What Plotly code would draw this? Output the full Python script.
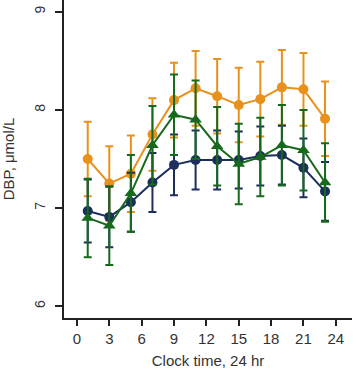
import plotly.graph_objects as go

hours = [1, 3, 5, 7, 9, 11, 13, 15, 17, 19, 21, 23]

orange_mean = [7.50, 7.25, 7.35, 7.75, 8.10, 8.22, 8.14, 8.05, 8.11, 8.23, 8.21, 7.91]
orange_err = [0.38, 0.38, 0.39, 0.37, 0.38, 0.38, 0.38, 0.38, 0.38, 0.38, 0.37, 0.38]

navy_mean = [6.97, 6.91, 7.06, 7.26, 7.44, 7.49, 7.49, 7.49, 7.53, 7.54, 7.41, 7.17]
navy_err = [0.32, 0.31, 0.30, 0.30, 0.31, 0.30, 0.30, 0.29, 0.30, 0.30, 0.30, 0.30]

green_mean = [6.90, 6.82, 7.15, 7.64, 7.95, 7.90, 7.63, 7.45, 7.52, 7.64, 7.59, 7.26]
green_err = [0.40, 0.40, 0.39, 0.40, 0.41, 0.40, 0.40, 0.41, 0.40, 0.41, 0.41, 0.40]

x_ticks = [0, 3, 6, 9, 12, 15, 18, 21, 24]
y_ticks = [6, 7, 8, 9]

ORANGE = "#E8911C"
NAVY = "#1C2F5C"
GREEN = "#176A1C"

fig = go.Figure()

def add_series(y, err, color, symbol, size):
    fig.add_trace(go.Scatter(
        x=hours, y=y, mode="lines+markers",
        line=dict(color=color, width=2),
        marker=dict(color=color, symbol=symbol, size=size),
        error_y=dict(type="data", array=err, visible=True, color=color,
                     thickness=2, width=4),
        showlegend=False, hoverinfo="skip",
    ))

add_series(orange_mean, orange_err, ORANGE, "circle", 10)
add_series(navy_mean, navy_err, NAVY, "circle", 10)
add_series(green_mean, green_err, GREEN, "triangle-up", 11)

font = dict(family="Liberation Sans, Arial, sans-serif", size=14, color="#333333")

fig.update_layout(
    width=361, height=381,
    margin=dict(l=64, r=9, t=0, b=63),
    paper_bgcolor="white", plot_bgcolor="white",
    font=font,
    xaxis=dict(
        range=[-1.2, 25.5], tickvals=x_ticks, ticktext=[str(v) for v in x_ticks],
        showgrid=False, zeroline=False, showline=True, linecolor="#222222", linewidth=1.5,
        ticks="outside", ticklen=6, tickwidth=1.5, tickcolor="#222222",
        title=dict(text="Clock time, 24 hr", font=dict(size=15), standoff=10),
        tickfont=dict(size=15), automargin=False,
    ),
    yaxis=dict(
        range=[5.88, 9.12], tickvals=y_ticks, ticktext=[str(v) for v in y_ticks],
        showgrid=False, zeroline=False, showline=True, linecolor="#222222", linewidth=1.5,
        ticks="outside", ticklen=7, tickwidth=1.5, tickcolor="#222222",
        tickangle=-90, tickfont=dict(size=14), automargin=False,
        ticklabelstandoff=5,
        title=dict(text="DBP, μmol/L", font=dict(size=15), standoff=14),
    ),
)

fig.write_html("out.html", config={"displayModeBar": False},
               post_script="document.body.style.margin='0';document.body.style.overflow='hidden';")
